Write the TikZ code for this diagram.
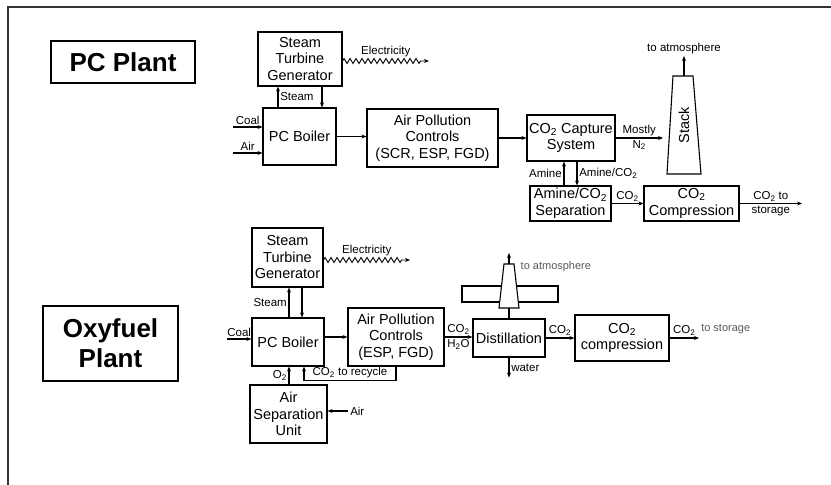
\documentclass[tikz,border=0pt]{standalone}
\usepackage{fontspec}
\setmainfont{Liberation Sans}
\usetikzlibrary{arrows.meta, positioning, calc, decorations.pathmorphing}
\newcommand{\cotwo}{CO\textsubscript{2}}

\begin{document}
\begin{tikzpicture}[
      x=1pt, y=1pt,
      unit/.style={rectangle, draw, line width=1.1pt, align=center, inner sep=0pt, font=\fontsize{14.5}{16.5}\selectfont},
      title/.style={unit, font=\fontsize{26}{30}\selectfont\bfseries},
      flow/.style={-{Stealth[length=5pt, width=4pt]}, line width=1.5pt},
      power/.style={-{Stealth[length=5pt, width=4pt]}, line width=0.9pt, decorate,
        decoration={zigzag, segment length=6pt, amplitude=2.5pt, post=lineto, post length=7pt}},
      lbl/.style={font=\fontsize{11.5}{13}\selectfont, inner sep=1.5pt},
      note/.style={lbl, font=\fontsize{11}{13}\selectfont, text=black!65}
    ]
    \useasboundingbox (0,0) rectangle (831,485);
    \draw[line width=1.2pt, black!80] (8,0) -- (8,478) -- (831,478);

    % PC plant
    \node[title, minimum width=144, minimum height=42] (pctitle) at (123,423) {PC Plant};
    \node[unit, minimum width=84, minimum height=54] (stgA) at (300,426) {Steam\\Turbine\\Generator};
    \node[unit, minimum width=73, minimum height=57] (boilerA) at (299.5,348.5) {PC Boiler};
    \node[unit, minimum width=131, minimum height=58] (apcA) at (432.5,347) {Air Pollution\\Controls\\(SCR, ESP, FGD)};
    \node[unit, minimum width=88, minimum height=46] (capture) at (571,347) {\cotwo{} Capture\\System};
    \node[unit, minimum width=81, minimum height=35] (sep) at (570.5,281.5) {Amine/\cotwo\\Separation};
    \node[unit, minimum width=95, minimum height=35] (compA) at (691.5,281.5) {\cotwo\\Compression};

    \draw[line width=1.1pt] (667,311) -- (673,409) -- (693,409) -- (701,311) -- cycle;
    \node[font=\fontsize{14.5}{16.5}\selectfont, rotate=90] (stack) at (684,360) {Stack};
    \coordinate (stacktop) at (684,409);
    \coordinate (n2end) at (663,346);
    \coordinate (coalA) at (233,358);
    \coordinate (airA) at (233,332);
    \coordinate (elecA) at (429,424);
    \coordinate (storeA) at (802,282);

    \draw[power] (stgA.east |- elecA) -- (elecA) node[lbl, midway, above=2pt] {Electricity};
    \draw[flow] ([xshift=-21.5pt]boilerA.north) -- ([xshift=-21.5pt]boilerA.north |- stgA.south)
      node[lbl, midway, right] {Steam};
    \draw[flow] ([xshift=22.5pt]boilerA.north |- stgA.south) -- ([xshift=22.5pt]boilerA.north);
    \draw[flow] (coalA) -- (coalA -| boilerA.west) node[lbl, midway, above] {Coal};
    \draw[flow] (airA) -- (airA -| boilerA.west) node[lbl, midway, above] {Air};
    \draw[flow] (boilerA.east) -- (boilerA.east -| apcA.west);
    \draw[flow] (apcA.east) -- (apcA.east -| capture.west);
    \draw[flow] (capture.east) -- (capture.east -| n2end)
      node[lbl, midway, above] {Mostly} node[lbl, midway, below] {N\textsubscript{2}};
    \draw[flow] (stacktop) -- ++(0,20) node[lbl, above] {to atmosphere};
    \draw[flow] ([xshift=-6.5pt]sep.north) -- ([xshift=-6.5pt]sep.north |- capture.south)
      node[lbl, midway, left] {Amine};
    \draw[flow] ([xshift=6.5pt]sep.north |- capture.south) -- ([xshift=6.5pt]sep.north)
      node[lbl, midway, right] {Amine/\cotwo};
    \draw[flow] (sep.east) -- (sep.east -| compA.west) node[lbl, midway, above] {\cotwo};
    \draw[flow] (compA.east) -- (compA.east -| storeA)
      node[lbl, midway, above] {\cotwo{} to} node[lbl, midway, below] {storage};

    % Oxyfuel plant
    \node[title, minimum width=135, minimum height=75] (oxytitle) at (110.5,141.5) {Oxyfuel\\Plant};
    \node[unit, minimum width=71, minimum height=59] (stgB) at (287.5,227.5) {Steam\\Turbine\\Generator};
    \node[unit, minimum width=72, minimum height=48] (boilerB) at (288,143) {PC Boiler};
    \node[unit, minimum width=96, minimum height=58] (apcB) at (396,148) {Air Pollution\\Controls\\(ESP, FGD)};
    \node[unit, minimum width=77, minimum height=58] (asu) at (288.5,71) {Air\\Separation\\Unit};
    \node[unit, minimum width=72, minimum height=38] (dist) at (509,147) {Distillation};
    \node[unit, minimum width=94, minimum height=46] (compB) at (622,147) {\cotwo\\compression};

    \coordinate (towerbase) at (509,177);
    \coordinate (towertop) at (509,221);
    \coordinate (coalB) at (227,146);
    \coordinate (airB) at (348,74);
    \coordinate (elecB) at (410,225);
    \coordinate (storeB) at (699,148);

    \draw[line width=1.5pt] (dist.north) -- (towerbase);
    \draw[line width=1.1pt, fill=white] (462,183) rectangle (558,199);
    \draw[line width=1.1pt, fill=white] (499,177) -- (504,221) -- (514,221) -- (519,177) -- cycle;
    \draw[flow] (towertop) -- ++(0,11);
    \node[note, anchor=west] (atmB) at (519,218) {to atmosphere};

    \draw[power] (stgB.east |- elecB) -- (elecB) node[lbl, midway, above=2pt] {Electricity};
    \draw[flow] ([xshift=1pt]boilerB.north) -- ([xshift=1pt]boilerB.north |- stgB.south)
      node[lbl, midway, left] {Steam};
    \draw[flow] ([xshift=14pt]boilerB.north |- stgB.south) -- ([xshift=14pt]boilerB.north);
    \draw[flow] (coalB) -- (coalB -| boilerB.west) node[lbl, midway, above] {Coal};
    \draw[flow] (boilerB.east |- apcB.west) -- (apcB.west);
    \draw[flow] (apcB.south) -- ++(0,-14) -| ([xshift=16pt]boilerB.south)
      node[lbl, pos=0.25, above] {\cotwo{} to recycle};
    \draw[flow] ([xshift=0.5pt]asu.north) -- ([xshift=0.5pt]asu.north |- boilerB.south)
      node[lbl, midway, left] {O\textsubscript{2}};
    \draw[flow] (airB) node[lbl, right] {Air} -- (airB -| asu.east);
    \draw[flow] (apcB.east) -- (apcB.east -| dist.west)
      node[lbl, midway, above] {\cotwo} node[lbl, midway, below] {H\textsubscript{2}O};
    \draw[flow] (dist.south) -- ++(0,-20) node[lbl, midway, right] {water};
    \draw[flow] (dist.east) -- (dist.east -| compB.west) node[lbl, midway, above] {\cotwo};
    \draw[flow] (compB.east) -- (compB.east -| storeB)
      node[lbl, midway, above] {\cotwo} node[note, pos=1, anchor=south west, yshift=2pt] {to storage};
  \end{tikzpicture}
\end{document}
